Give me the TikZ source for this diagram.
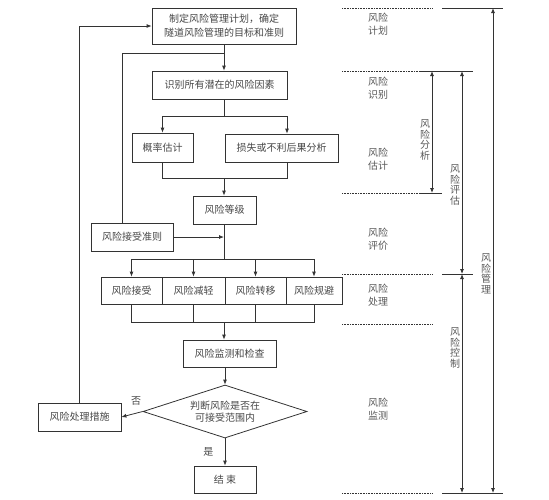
\documentclass[tikz,border=0pt]{standalone}
\usepackage{fontspec}
\setmainfont{Noto Sans CJK SC}
\usetikzlibrary{arrows.meta,shapes.geometric}

\tikzset{
	box/.style = {draw, line width=0.8pt, inner sep=0pt, align=center,
		text=black!72, font=\fontsize{10}{14}\selectfont},
	decide/.style = {draw, diamond, aspect=3.1, line width=0.8pt, inner sep=0pt, align=center,
		minimum width=164pt, minimum height=53pt, text=black!72,
		font=\fontsize{10}{12}\selectfont},
	arr/.style = {-{Latex[length=5pt,width=4pt]}},
	twoarr/.style = {{Latex[length=5pt,width=4pt]}-{Latex[length=5pt,width=4pt]}},
	stage/.style = {align=center, inner sep=0pt, text=black!65,
		font=\fontsize{10}{13}\selectfont},
	vlabel/.style = {align=center, inner sep=0pt, text=black!65,
		font=\fontsize{10}{10.5}\selectfont},
	sep/.style = {densely dotted, line width=0.6pt},
}

\begin{document}
\begin{tikzpicture}[x=1pt, y=-1pt, line width=0.8pt, draw=black!80]
	\useasboundingbox (0,0) rectangle (549,499);

%flow chart boxes
	\node[box, minimum width=144pt, minimum height=36pt] (plan) at (224,26)
		{制定风险管理计划，确定\\隧道风险管理的目标和准则};
	\node[box, minimum width=135pt, minimum height=28pt] (ident) at (219.5,85) {识别所有潜在的风险因素};
	\node[box, minimum width=61pt, minimum height=29pt] (prob) at (162.5,147.5) {概率估计};
	\node[box, minimum width=113pt, minimum height=28pt] (loss) at (281.5,148) {损失或不利后果分析};
	\node[box, minimum width=63pt, minimum height=28pt] (level) at (224.5,210) {风险等级};
	\node[box, minimum width=82pt, minimum height=28pt] (crit) at (132,237) {风险接受准则};

	\node[box, minimum width=61pt, minimum height=27pt] (accept) at (131.5,290.5) {风险接受};
	\node[box, minimum width=63pt, minimum height=27pt] (reduce) at (193.5,290.5) {风险减轻};
	\node[box, minimum width=61pt, minimum height=27pt] (transfer) at (255.5,290.5) {风险转移};
	\node[box, minimum width=56pt, minimum height=27pt] (avoid) at (314,290.5) {风险规避};

	\node[box, minimum width=93pt, minimum height=27pt] (monitor) at (229.5,353.5) {风险监测和检查};
	\node[decide] (judge) at (225,411.5) {判断风险是否在\\可接受范围内};
	\node[box, minimum width=83pt, minimum height=28pt] (treat) at (79.5,417) {风险处理措施};
	\node[box, minimum width=62pt, minimum height=27pt] (stop) at (225,479.5) {结\ 束};

%junction points
	\coordinate (jA) at (224,116);
	\coordinate (jB) at (224,178);
	\coordinate (jC) at (224,259);
	\coordinate (jD) at (224,322);
	\coordinate (jE) at (224,53);
	\coordinate (xLoss) at (287,0);
	\coordinate (xBack) at (122,0);

%connectors
	\draw[arr] (plan.south -| jA) -- (ident.north -| jA);
	\draw (ident.south -| jA) -- (jA);
	\draw[arr] (jA) -| (prob.north);
	\draw[arr] (jA) -| (loss.north -| xLoss);
	\draw (prob.south) |- (jB);
	\draw (loss.south -| xLoss) |- (jB);
	\draw[arr] (jB) -- (level.north -| jB);
	\draw (level.south -| jC) -- (jC);
	\draw[arr] (crit.east) -- (crit.east -| jC);
	\draw (crit.north -| xBack) |- (jE);

	\foreach \b in {accept, reduce, transfer, avoid}{
		\draw[arr] (jC) -| (\b.north);
		\draw (\b.south) |- (jD);
	}
	\draw[arr] (jD) -- (monitor.north -| jD);
	\draw[arr] (monitor.south -| judge.north) -- (judge.north);
	\draw[arr] (judge.west) -- (treat.east) node[pos=0.3, above=4pt, text=black!72,
		font=\fontsize{10}{12}\selectfont] {否};
	\draw[arr] (judge.south) -- (stop.north) node[pos=0.5, left=8pt, text=black!72,
		font=\fontsize{10}{12}\selectfont] {是};
	\draw[arr] (treat.north) |- (plan.west);

%stage separators
	\foreach \yy/\xe in {8/433, 71/422, 193/422, 274/433, 324/433, 493/433}{
		\draw[sep] (342,\yy) -- (\xe,\yy);
	}
	\coordinate (mTop) at (493,8);
	\coordinate (mBot) at (493,493);
	\coordinate (aTop) at (432,71);
	\coordinate (aBot) at (432,193);
	\coordinate (eTop) at (462,71);
	\coordinate (eBot) at (462,274);
	\coordinate (cBot) at (462,493);

	\draw (442,8) -- (503,8);
	\draw (420,71) -- (473,71);
	\draw (421,193) -- (442,193);
	\draw (442,274) -- (473,274);
	\draw (442,493) -- (503,493);

	\draw[twoarr] (mTop) -- (mBot);
	\draw[twoarr] (aTop) -- (aBot);
	\draw[twoarr] (eTop) -- (eBot);
	\draw[twoarr] (eBot) -- (cBot);

%stage names
	\node[stage] (sPlan) at (378,24) {风险\\计划};
	\node[stage] (sIdent) at (378,88) {风险\\识别};
	\node[stage] (sEst) at (378,159) {风险\\估计};
	\node[stage] (sEval) at (378,239) {风险\\评价};
	\node[stage] (sTreat) at (378,295) {风险\\处理};
	\node[stage] (sMon) at (378,409) {风险\\监测};

	\node[vlabel] (vAnal) at (425,140) {风\\险\\分\\析};
	\node[vlabel] (vAss) at (455,185) {风\\险\\评\\估};
	\node[vlabel] (vCtrl) at (455,348) {风\\险\\控\\制};
	\node[vlabel] (vMgmt) at (486,274) {风\\险\\管\\理};
\end{tikzpicture}
\end{document}
